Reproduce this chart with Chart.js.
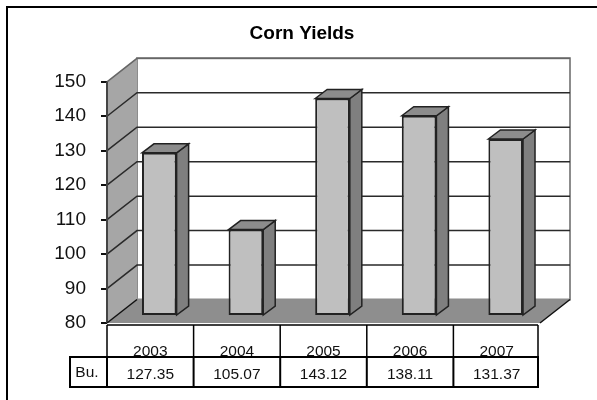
<!DOCTYPE html>
<html>
<head>
<meta charset="utf-8">
<script src="https://cdn.jsdelivr.net/npm/chart.js@4"></script>
<style>
  html, body { margin: 0; padding: 0; background: #fff; }
  #wrap { position: absolute; left: 0; top: 0; width: 597px; height: 400px; }
</style>
</head>
<body>
<div id="wrap"><canvas id="chart" width="597" height="400"></canvas></div>
<script>
const chartTitle = 'Corn Yields';
const years = ['2003', '2004', '2005', '2006', '2007'];
const yields = [127.35, 105.07, 143.12, 138.11, 131.37];
const rowLabel = 'Bu.';
const yMin = 80;
const yMax = 150;
const yStep = 10;

const FONT = '"Liberation Sans", Arial, sans-serif';

// depth of the fake 3D box
const wallDX = 30, wallDY = -23.5;
const barShiftX = 9, barShiftY = -7;
const barDX = 12, barDY = -9;

function poly(ctx, pts, fill, stroke, lw) {
    ctx.beginPath();
    pts.forEach((p, i) => i ? ctx.lineTo(p[0], p[1]) : ctx.moveTo(p[0], p[1]));
    ctx.closePath();
    if (fill) { ctx.fillStyle = fill; ctx.fill(); }
    if (stroke) { ctx.strokeStyle = stroke; ctx.lineWidth = lw || 1; ctx.stroke(); }
}

const box3d = {
    id: 'box3d',
    beforeDatasetsDraw(chart) {
        const { ctx, chartArea: a, scales: { y } } = chart;
        ctx.save();
        // back wall
        poly(ctx, [[a.left + wallDX, a.top + wallDY], [a.right + wallDX, a.top + wallDY],
                   [a.right + wallDX, a.bottom + wallDY], [a.left + wallDX, a.bottom + wallDY]], '#fff', '#8c8c8c', 2);
        // side wall
        poly(ctx, [[a.left, a.top], [a.left + wallDX, a.top + wallDY],
                   [a.left + wallDX, a.bottom + wallDY], [a.left, a.bottom]], '#a6a6a6', null);
        // floor
        poly(ctx, [[a.left, a.bottom], [a.right, a.bottom],
                   [a.right + wallDX, a.bottom + wallDY], [a.left + wallDX, a.bottom + wallDY]], '#8e8e8e', null);
        // grid lines run along the side wall and the back wall
        ctx.lineWidth = 1.5;
        y.ticks.forEach(t => {
            if (t.value === yMin) return;
            const py = y.getPixelForValue(t.value);
            ctx.strokeStyle = t.value === yMax ? '#666' : '#2a2a2a';
            ctx.beginPath();
            ctx.moveTo(a.left, py);
            ctx.lineTo(a.left + wallDX, py + wallDY);
            ctx.lineTo(a.right + wallDX, py + wallDY);
            ctx.stroke();
        });
        // axis line and front edges of the floor
        ctx.strokeStyle = '#444';
        ctx.lineWidth = 2;
        ctx.beginPath();
        ctx.moveTo(a.left, a.top);
        ctx.lineTo(a.left, a.bottom);
        ctx.stroke();
        ctx.strokeStyle = '#111';
        ctx.lineWidth = 1.5;
        ctx.beginPath();
        ctx.moveTo(a.left, a.bottom);
        ctx.lineTo(a.left + wallDX, a.bottom + wallDY);
        ctx.moveTo(a.right, a.bottom);
        ctx.lineTo(a.right + wallDX, a.bottom + wallDY);
        ctx.stroke();
        // bar top and side faces, from the bar elements
        chart.getDatasetMeta(0).data.forEach(bar => {
            const p = bar.getProps(['x', 'y', 'base', 'width'], true);
            const l = p.x - p.width / 2 + barShiftX, r = p.x + p.width / 2 + barShiftX;
            const t = p.y + barShiftY, b = p.base + barShiftY;
            poly(ctx, [[r, t], [r + barDX, t + barDY], [r + barDX, b + barDY], [r, b]], '#7f7f7f', '#222', 1.5);
            poly(ctx, [[l, t], [l + barDX, t + barDY], [r + barDX, t + barDY], [r, t]], '#8c8c8c', '#222', 1.5);
        });
        ctx.restore();
    },
    // front faces are the real bars, pushed back into the box
    beforeDatasetDraw(chart) {
        chart.ctx.save();
        chart.ctx.translate(barShiftX, barShiftY);
    },
    afterDatasetDraw(chart) {
        chart.ctx.restore();
    },
    afterDraw(chart) {
        const { ctx, chartArea: a, scales: { x } } = chart;
        const rowTop = 357, rowBottom = 387, left = 70, right = a.right - 2;
        const cellEdge = i => x.getPixelForValue(i) + (a.right - a.left) / years.length / 2;
        ctx.save();
        // frame runs off the right and bottom of the picture
        ctx.strokeStyle = '#000';
        ctx.lineWidth = 2;
        ctx.beginPath();
        ctx.moveTo(7, 400);
        ctx.lineTo(7, 7);
        ctx.lineTo(597, 7);
        ctx.stroke();
        // data table, year row
        ctx.lineWidth = 1.5;
        ctx.beginPath();
        ctx.moveTo(a.left, a.bottom + 2);
        ctx.lineTo(right, a.bottom + 2);
        ctx.moveTo(a.left, a.bottom + 2);
        ctx.lineTo(a.left, rowTop);
        years.forEach((yr, i) => {
            ctx.moveTo(Math.min(cellEdge(i), right), a.bottom + 2);
            ctx.lineTo(Math.min(cellEdge(i), right), rowTop);
        });
        ctx.stroke();
        // data table, value row
        ctx.lineWidth = 2;
        ctx.beginPath();
        ctx.moveTo(left, rowTop);
        ctx.lineTo(right, rowTop);
        ctx.lineTo(right, rowBottom);
        ctx.lineTo(left, rowBottom);
        ctx.closePath();
        ctx.moveTo(a.left, rowTop);
        ctx.lineTo(a.left, rowBottom);
        years.forEach((yr, i) => {
            if (i === years.length - 1) return;
            ctx.moveTo(cellEdge(i), rowTop);
            ctx.lineTo(cellEdge(i), rowBottom);
        });
        ctx.stroke();
        ctx.fillStyle = '#111';
        ctx.font = '15.5px ' + FONT;
        ctx.textAlign = 'center';
        ctx.textBaseline = 'middle';
        ctx.fillText(rowLabel, 87, 373);
        yields.forEach((v, i) => ctx.fillText(v.toFixed(2), x.getPixelForValue(i), 375));
        ctx.restore();
    }
};

new Chart(document.getElementById('chart'), {
    type: 'bar',
    data: {
        labels: years,
        datasets: [{
            data: yields,
            base: yMin,
            clip: 8,
            backgroundColor: '#bfbfbf',
            borderColor: '#222',
            borderWidth: 2,
            borderSkipped: false,
            barPercentage: 0.4,
            categoryPercentage: 1
        }]
    },
    options: {
        responsive: false,
        animation: false,
        layout: { padding: { top: 0, right: 0, bottom: 0, left: 7 } },
        plugins: {
            legend: { display: false },
            tooltip: { enabled: false },
            title: {
                display: true,
                text: chartTitle,
                color: '#000',
                font: { family: FONT, size: 19, weight: 'bold' },
                padding: { top: 22, bottom: 37 }
            }
        },
        scales: {
            x: {
                afterFit(scale) { scale.height = 77; },
                grid: { display: false },
                border: { display: false },
                ticks: { color: '#111', font: { family: FONT, size: 15.5 }, padding: 11, maxRotation: 0 }
            },
            y: {
                min: yMin,
                max: yMax,
                afterFit(scale) { scale.width = 100; },
                grid: { drawOnChartArea: false, color: '#111', lineWidth: 2, tickLength: 6 },
                border: { display: false },
                ticks: { stepSize: yStep, color: '#111', font: { family: FONT, size: 19 }, padding: 15 }
            },
            // empty axis, keeps room right of the front plane for the box depth
            depth: {
                position: 'right',
                afterFit(scale) { scale.width = 57; },
                grid: { display: false },
                border: { display: false },
                ticks: { display: false }
            }
        }
    },
    plugins: [box3d]
});
</script>
</body>
</html>
